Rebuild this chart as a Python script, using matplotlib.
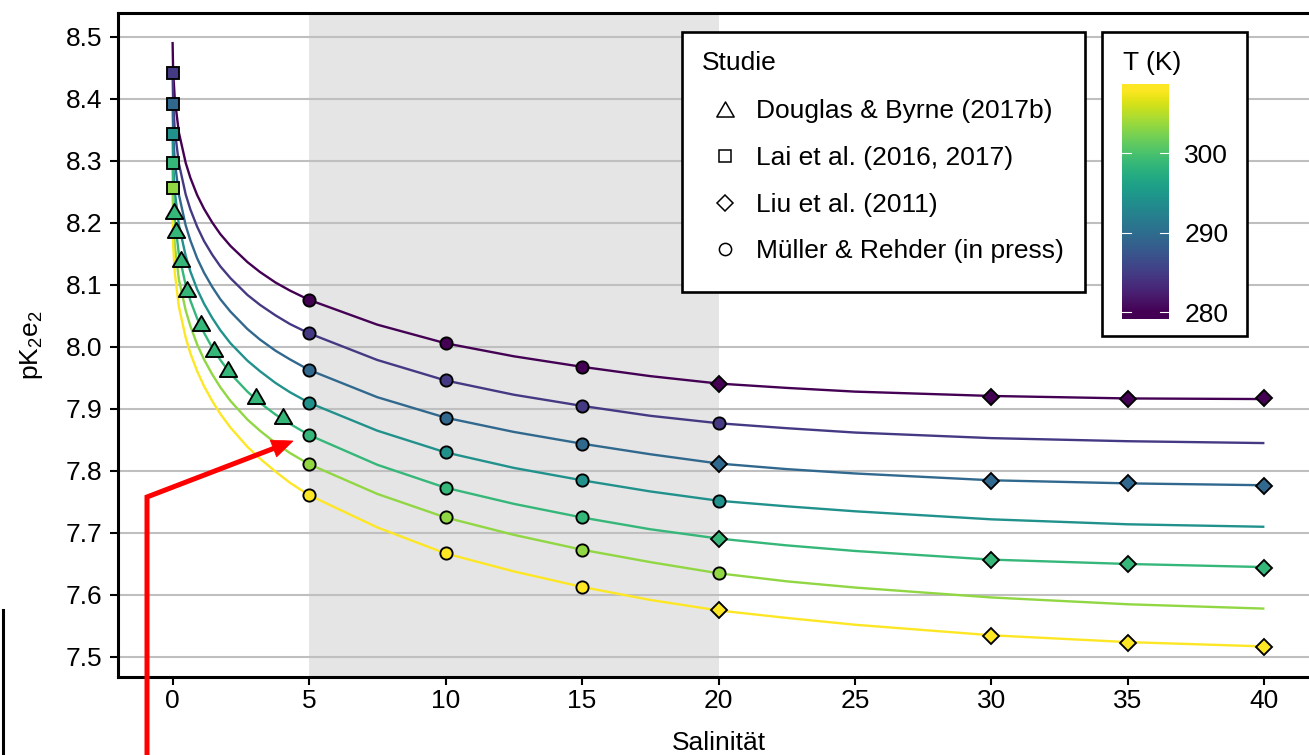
import numpy as np
import matplotlib
matplotlib.use('Agg')
import matplotlib.pyplot as plt
from matplotlib.colors import Normalize
from matplotlib.patches import Rectangle, Polygon
from matplotlib.path import Path

plt.rcParams['font.family'] = ['Liberation Sans', 'DejaVu Sans']
plt.rcParams['mathtext.fontset'] = 'custom'
plt.rcParams['mathtext.rm'] = 'Liberation Sans'

# ---------------- data ----------------
temperatures_K = [280.0, 284.67, 289.33, 294.0, 298.67, 303.33, 308.0]

salinity_curve = [0, 0.02, 0.08, 0.23, 0.48, 0.65, 0.9, 1.15, 1.45, 1.75, 2.12, 2.74, 3.2,
                  3.77, 4.3, 5, 7.5, 10, 12.5, 15, 17.5, 20, 22.5, 25, 30, 35, 40]
pk_curve_T1 = [8.492, 8.445, 8.400, 8.346, 8.297, 8.273, 8.245, 8.223, 8.201, 8.182, 8.163,
               8.137, 8.121, 8.104, 8.091, 8.076, 8.036, 8.006, 7.985, 7.968, 7.953, 7.941,
               7.934, 7.928, 7.921, 7.917, 7.916]
pk_curve_T2 = [8.442, 8.395, 8.350, 8.296, 8.246, 8.222, 8.194, 8.171, 8.149, 8.130, 8.111,
               8.084, 8.068, 8.051, 8.037, 8.022, 7.979, 7.946, 7.923, 7.905, 7.889, 7.877,
               7.869, 7.862, 7.853, 7.848, 7.845]
pk_curve_T3 = [8.392, 8.345, 8.300, 8.246, 8.196, 8.172, 8.143, 8.120, 8.097, 8.077, 8.057,
               8.029, 8.012, 7.994, 7.980, 7.963, 7.919, 7.886, 7.863, 7.844, 7.827, 7.812,
               7.803, 7.796, 7.785, 7.780, 7.777]
pk_curve_T4 = [8.343, 8.296, 8.251, 8.197, 8.147, 8.122, 8.093, 8.070, 8.047, 8.027, 8.006,
               7.978, 7.961, 7.942, 7.927, 7.910, 7.865, 7.830, 7.805, 7.785, 7.767, 7.752,
               7.743, 7.735, 7.722, 7.714, 7.710]
pk_curve_T5 = [8.297, 8.250, 8.205, 8.150, 8.100, 8.075, 8.046, 8.023, 7.999, 7.979, 7.957,
               7.928, 7.910, 7.891, 7.876, 7.858, 7.810, 7.773, 7.747, 7.725, 7.706, 7.691,
               7.680, 7.671, 7.657, 7.650, 7.645]
pk_curve_T6 = [8.256, 8.209, 8.164, 8.109, 8.059, 8.034, 8.004, 7.980, 7.956, 7.935, 7.913,
               7.883, 7.865, 7.845, 7.829, 7.811, 7.763, 7.725, 7.697, 7.673, 7.653, 7.635,
               7.622, 7.612, 7.596, 7.585, 7.578]
pk_curve_T7 = [8.212, 8.165, 8.120, 8.065, 8.015, 7.990, 7.961, 7.937, 7.913, 7.892, 7.870,
               7.839, 7.820, 7.799, 7.781, 7.761, 7.709, 7.667, 7.638, 7.613, 7.592, 7.575,
               7.563, 7.552, 7.535, 7.524, 7.517]
pk_curves = [pk_curve_T1, pk_curve_T2, pk_curve_T3, pk_curve_T4,
             pk_curve_T5, pk_curve_T6, pk_curve_T7]

# Mueller & Rehder (circles)
mr_salinity = [5, 5, 5, 5, 5, 5, 5,
               10, 10, 10, 10, 10, 10, 10,
               15, 15, 15, 15, 15, 15, 15,
               20, 20, 20]
mr_temp_idx = [0, 1, 2, 3, 4, 5, 6,
               0, 1, 2, 3, 4, 5, 6,
               0, 1, 2, 3, 4, 5, 6,
               1, 3, 5]
mr_pk = [8.076, 8.022, 7.963, 7.910, 7.858, 7.811, 7.761,
         8.006, 7.946, 7.886, 7.830, 7.773, 7.725, 7.667,
         7.968, 7.905, 7.844, 7.785, 7.725, 7.673, 7.613,
         7.877, 7.752, 7.635]

# Liu et al. 2011 (diamonds)
liu_salinity = [20, 30, 35, 40, 20, 30, 35, 40, 20, 30, 35, 40, 20, 30, 35, 40]
liu_temp_idx = [0, 0, 0, 0, 2, 2, 2, 2, 4, 4, 4, 4, 6, 6, 6, 6]
liu_pk = [7.941, 7.920, 7.916, 7.917,
          7.812, 7.784, 7.780, 7.776,
          7.691, 7.656, 7.650, 7.644,
          7.575, 7.534, 7.522, 7.516]

# Lai et al. (squares)
lai_salinity = [0, 0, 0, 0, 0]
lai_temp_idx = [1, 2, 3, 4, 5]
lai_pk = [8.442, 8.392, 8.343, 8.297, 8.256]

# Douglas & Byrne 2017b (triangles)
db_salinity = [0.05, 0.13, 0.29, 0.54, 1.03, 1.51, 2.03, 3.06, 4.05]
db_temp_idx = 4
db_pk = [8.219, 8.188, 8.142, 8.093, 8.038, 7.996, 7.965, 7.921, 7.888]

highlight_range = (5, 20)
x_ticks = [0, 5, 10, 15, 20, 25, 30, 35, 40]
y_ticks = [7.5, 7.6, 7.7, 7.8, 7.9, 8.0, 8.1, 8.2, 8.3, 8.4, 8.5]
cbar_ticks = [280, 290, 300]
legend_labels = ['Douglas & Byrne (2017b)', 'Lai et al. (2016, 2017)',
                 'Liu et al. (2011)', 'Müller & Rehder (in press)']

# ---------------- figure ----------------
W, H = 1309, 755
fig = plt.figure(figsize=(W / 100, H / 100), dpi=100)
ax = fig.add_axes([118 / W, (H - 677) / H, (1319 - 118) / W, (677 - 13) / H])

cmap = plt.get_cmap('viridis')
norm = Normalize(min(temperatures_K), max(temperatures_K))
colors = [cmap(norm(t)) for t in temperatures_K]

ax.axvspan(*highlight_range, color='#e5e5e5', lw=0, zorder=0)
ax.set_axisbelow(True)
ax.grid(axis='y', color='#bfbfbf', lw=1.5)
ax.grid(axis='x', visible=False)

for curve, c in zip(pk_curves, colors):
    ax.plot(salinity_curve, curve, color=c, lw=1.7, zorder=2,
            solid_capstyle='butt', solid_joinstyle='round')

tri = Path([(0, 0.75), (-0.866, -0.75), (0.866, -0.75), (0, 0.75)], closed=True)
mew = 1.35
for s, p in zip(db_salinity, db_pk):
    ax.plot(s, p, marker=tri, ms=12.5, mfc=colors[db_temp_idx], mec='black', mew=mew,
            zorder=4, ls='none')
for s, i, p in zip(lai_salinity, lai_temp_idx, lai_pk):
    ax.plot(s, p, marker='s', ms=8.2, mfc=colors[i], mec='black', mew=mew, zorder=4, ls='none')
for s, i, p in zip(mr_salinity, mr_temp_idx, mr_pk):
    ax.plot(s, p, marker='o', ms=8.8, mfc=colors[i], mec='black', mew=mew, zorder=4, ls='none')
for s, i, p in zip(liu_salinity, liu_temp_idx, liu_pk):
    ax.plot(s, p, marker='D', ms=7.8, mfc=colors[i], mec='black', mew=mew, zorder=5, ls='none')

ax.set_xlim(-2, 42)
ax.set_ylim(7.4677, 8.5387)
ax.set_xticks(x_ticks)
ax.set_xticklabels([str(v) for v in x_ticks])
ax.set_yticks(y_ticks)
ax.set_yticklabels([f'{v:.1f}' for v in y_ticks])
ax.tick_params(axis='both', direction='out', length=5.5, width=1.5, colors='black',
               labelsize=19)
ax.tick_params(axis='y', pad=6)
ax.tick_params(axis='x', pad=3)
for sp in ax.spines.values():
    sp.set_linewidth(2.2)
    sp.set_color('black')

ax.set_xlabel('Salinität', fontsize=19)
ax.xaxis.set_label_coords(0.5, (677 - 731) / 664)
ax.set_ylabel('pK$_\\mathregular{2}$e$_\\mathregular{2}$', fontsize=19)
ax.yaxis.set_label_coords((45 - 118) / 1201, 0.5)

# ---------------- overlay: legends, arrow ----------------
ov = fig.add_axes([0, 0, 1, 1], zorder=10)
ov.set_xlim(0, W)
ov.set_ylim(H, 0)
ov.axis('off')
ov.patch.set_alpha(0)

ov.add_patch(Rectangle((682, 32), 403, 260, fc='white', ec='black', lw=1.9, zorder=1))
ov.add_patch(Rectangle((1102, 32), 145, 304, fc='white', ec='black', lw=1.9, zorder=1))
ov.text(702, 70, 'Studie', fontsize=19, va='baseline', ha='left', zorder=3)
ov.text(1123, 70, 'T (K)', fontsize=19, va='baseline', ha='left', zorder=3)

leg_markers = [dict(marker=tri, ms=12.5), dict(marker='s', ms=8.2),
               dict(marker='D', ms=7.8), dict(marker='o', ms=8.8)]
row_y = [109.3, 156.0, 202.7, 249.3]
for lab, mk, y in zip(legend_labels, leg_markers, row_y):
    ov.plot(725, y, mfc='none', mec='black', mew=1.1, ls='none', zorder=3, **mk)
    ov.text(756, y + 9, lab, fontsize=19, va='baseline', ha='left', zorder=3)

# red arrow
tip = np.array([293.0, 441.0])
corner = np.array([147.0, 497.0])
u = (tip - corner) / np.linalg.norm(tip - corner)
perp = np.array([-u[1], u[0]])
base = tip - 21 * u
ov.plot([147, 147, base[0]], [H + 10, 497, base[1]], color='#ff0000', lw=3.6,
        solid_joinstyle='miter', zorder=5, clip_on=False)
ov.add_patch(Polygon([tip, base + 9 * perp, base - 9 * perp], closed=True,
                     fc='#ff0000', ec='#ff0000', lw=0.5, zorder=6))
# black fragment at left
ov.plot([2.5, 2.5], [610, H + 5], color='black', lw=2.2, zorder=5, clip_on=False)

# ---------------- colorbar ----------------
cb_lo, cb_hi = 279.16, 308.68
cax = fig.add_axes([1122 / W, (H - 319) / H, 47 / W, (319 - 84.3) / H], zorder=11)
grad = np.linspace(cb_lo, cb_hi, 400).reshape(-1, 1)
cax.imshow(grad, extent=[0, 1, cb_lo, cb_hi], aspect='auto', origin='lower',
           cmap=cmap, norm=norm, interpolation='bilinear')
cax.set_xlim(0, 1)
cax.set_ylim(cb_lo, cb_hi)
for sp in cax.spines.values():
    sp.set_visible(False)
cax.set_xticks([])
cax.yaxis.tick_right()
cax.set_yticks(cbar_ticks)
cax.set_yticklabels([str(t) for t in cbar_ticks])
cax.tick_params(axis='y', length=0, pad=11, labelsize=19)
for t in cbar_ticks:
    cax.plot([0, 0.2], [t, t], color='white', lw=0.8)
    cax.plot([0.8, 1], [t, t], color='white', lw=0.8)

fig.savefig('out.png', dpi=100)
